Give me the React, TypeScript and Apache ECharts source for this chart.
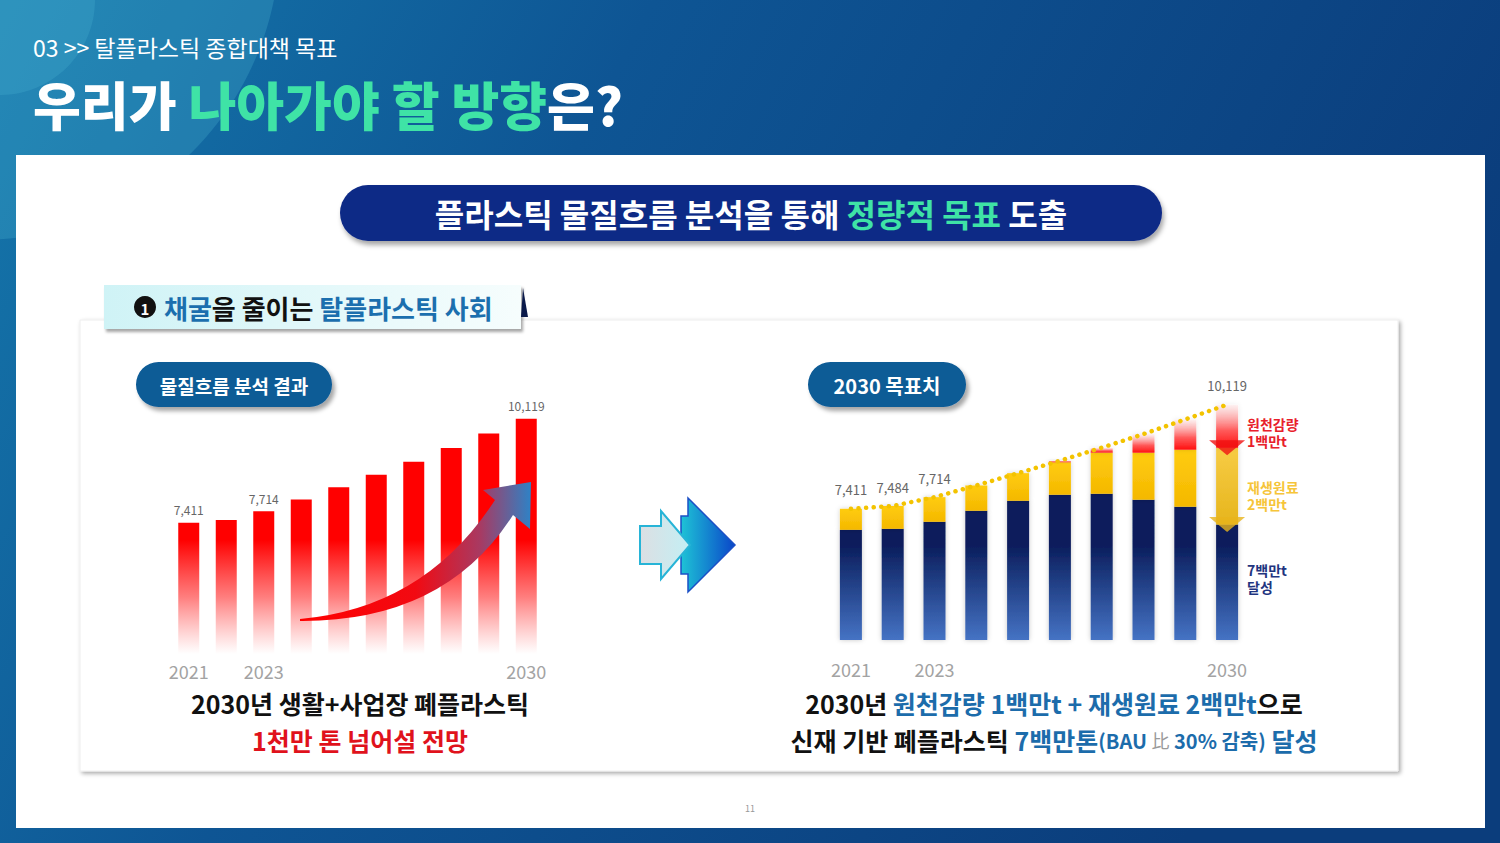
import React, { useEffect, useRef } from 'react';
import * as echarts from 'echarts';

// ---------- data ----------
const years = ['2021', '2022', '2023', '2024', '2025', '2026', '2027', '2028', '2029', '2030'];
const shownYears = ['2021', '2023', '2030'];
const wasteTotal = [7411, 7484, 7714, 8018, 8338, 8661, 9000, 9354, 9736, 10119];
const leftLabeledYears = ['2021', '2023', '2030'];
const rightLabeledYears = ['2021', '2022', '2023', '2030'];
const newMaterial = [6864, 6890, 7073, 7360, 7620, 7776, 7802, 7645, 7463, 7000];
const recycled = [547, 594, 641, 658, 718, 845, 1068, 1224, 1484, 2000];
const reduction = [0, 0, 0, 0, 0, 40, 130, 485, 789, 1119];
const axisMin = 4000;
const axisMax = 10500;

const FONT = "'Noto Sans CJK KR', 'Noto Sans', sans-serif";
const SWOOSH_D = 'M300 619 Q425 608 495 500 L483 490 L531 482 L530 529 L513 515 Q445 622 300 621 Z';

const fmt = (v: number) => String(v).replace(/\B(?=(\d{3})+(?!\d))/g, ',');

export default function App() {
  const ref = useRef<HTMLDivElement>(null);
  useEffect(() => {
    if (!ref.current) return;
    try {
      echarts.graphic.registerShape('swoosh', echarts.graphic.extendPath(SWOOSH_D, {}) as any);
    } catch (e) {}
    const chart = echarts.init(ref.current, null, { renderer: 'svg' });
    const last = years.length - 1;

    const text = (x: number, y: number, t: string, o: any = {}, z = 20) => ({
      type: 'text', x, y, z,
      style: { text: t, fontFamily: FONT, verticalAlign: 'middle', align: 'left', ...o },
    });
    const rs = (fill: string, fontSize: number, lineHeight?: number, fontWeight: any = 'bold') =>
      ({ fill, fontSize, fontWeight, fontFamily: FONT, ...(lineHeight ? { lineHeight } : {}) });

    const CAP = 25;
    const CAP_LH = 37;

    const graphic: any[] = [
      // background
      { type: 'rect', z: -10, shape: { x: 0, y: 0, width: 1500, height: 843 },
        style: { fill: { type: 'linear', x: 0, y: 0, x2: 1, y2: 0.3, colorStops: [
          { offset: 0, color: '#1577ab' }, { offset: 0.4, color: '#0e5594' }, { offset: 1, color: '#0b3d7c' } ] } } },
      { type: 'circle', z: -9, shape: { cx: -20, cy: -60, r: 300 }, style: { fill: 'rgba(90,200,225,0.22)' } },
      { type: 'circle', z: -9, shape: { cx: 0, cy: 0, r: 95 }, style: { fill: 'rgba(110,215,235,0.15)' } },
      // white panel
      { type: 'rect', z: -8, shape: { x: 16, y: 155, width: 1469, height: 673 }, style: { fill: '#ffffff' } },
      // inner box
      { type: 'rect', z: -7, shape: { x: 80, y: 320, width: 1318, height: 451 },
        style: { fill: '#ffffff', stroke: '#eeeeee', lineWidth: 1, shadowBlur: 4, shadowOffsetX: 2, shadowOffsetY: 2, shadowColor: 'rgba(0,0,0,0.35)' } },
      // header titles
      text(33, 47, '03 >> 탈플라스틱 종합대책 목표', { fill: '#ffffff', fontSize: 23, fontWeight: 400 }),
      text(33, 103, '{w|우리가 }{g|나아가야 할 방향}{w|은?}', {
        fontSize: 52, fontWeight: 900,
        rich: { w: rs('#ffffff', 52, undefined, 900), g: rs('#3fe3a6', 52, undefined, 900) } }),
      // banner
      { type: 'rect', z: 5, shape: { x: 340, y: 185, width: 822, height: 56, r: 28 },
        style: { fill: '#112a86', shadowBlur: 5, shadowOffsetX: 2, shadowOffsetY: 4, shadowColor: 'rgba(0,0,0,0.35)' } },
      text(751, 213, '{w|플라스틱 물질흐름 분석을 통해 }{g|정량적 목표}{w| 도출}', {
        align: 'center', fontSize: 32, fontWeight: 'bold',
        rich: { w: rs('#ffffff', 32), g: rs('#3fe3a6', 32) } }),
      // section header
      { type: 'rect', z: 5, shape: { x: 104, y: 285, width: 417, height: 44 },
        style: { fill: { type: 'linear', x: 0, y: 0, x2: 1, y2: 0, colorStops: [
          { offset: 0, color: '#cff3f6' }, { offset: 1, color: '#f6fdfd' } ] },
          shadowBlur: 3, shadowOffsetX: 2, shadowOffsetY: 3, shadowColor: 'rgba(0,0,0,0.35)' } },
      { type: 'polygon', z: 5, shape: { points: [[523, 288], [521, 317], [528, 317]] }, style: { fill: '#0b1a4a' } },
      { type: 'circle', z: 20, shape: { cx: 145, cy: 307, r: 11 }, style: { fill: '#111111' } },
      text(145, 308, '1', { align: 'center', fill: '#ffffff', fontSize: 15, fontWeight: 'bold' }, 21),
      text(164, 307, '{b|채굴}{k|을 줄이는 }{b|탈플라스틱 사회}', {
        fontSize: 26, fontWeight: 'bold',
        rich: { b: rs('#1b6fae', 26), k: rs('#111111', 26) } }),
      // pills
      { type: 'rect', z: 5, shape: { x: 136, y: 362, width: 196, height: 45, r: 22.5 },
        style: { fill: '#0e5b96', shadowBlur: 4, shadowOffsetX: 3, shadowOffsetY: 4, shadowColor: 'rgba(0,0,0,0.35)' } },
      text(234, 385, '물질흐름 분석 결과', { align: 'center', fill: '#ffffff', fontSize: 19, fontWeight: 'bold' }),
      { type: 'rect', z: 5, shape: { x: 808, y: 362, width: 158, height: 45, r: 22.5 },
        style: { fill: '#0e5b96', shadowBlur: 4, shadowOffsetX: 3, shadowOffsetY: 4, shadowColor: 'rgba(0,0,0,0.35)' } },
      text(887, 385, '2030 목표치', { align: 'center', fill: '#ffffff', fontSize: 20, fontWeight: 'bold' }),
      // swoosh arrow in left chart
      { type: 'swoosh', z: 30, x: 0, y: 0,
        style: { fill: { type: 'linear', x: 0, y: 0, x2: 1, y2: 0, colorStops: [
          { offset: 0, color: '#ff0000' }, { offset: 0.5, color: '#f20a12' }, { offset: 0.78, color: '#a83a62' }, { offset: 1, color: '#2e82c6' } ] } } },
      // middle arrows
      { type: 'polygon', z: 10, shape: { points: [[688, 498], [735, 545], [688, 592], [688, 574], [681, 574], [681, 516], [688, 516]] },
        style: { fill: { type: 'linear', x: 0, y: 0, x2: 1, y2: 0, colorStops: [
          { offset: 0, color: '#1ec3d6' }, { offset: 1, color: '#0a46c9' } ] }, stroke: '#1b50c6', lineWidth: 1.5 } },
      { type: 'polygon', z: 11, shape: { points: [[640, 526], [661, 526], [661, 511], [690, 545], [661, 579], [661, 564], [640, 564]] },
        style: { fill: { type: 'linear', x: 0, y: 0, x2: 1, y2: 0, colorStops: [
          { offset: 0, color: '#dcdfe3' }, { offset: 1, color: '#c3eff4' } ] }, stroke: '#27b4d7', lineWidth: 2 } },
      // right chart annotations
      text(1247, 432.5, '원천감량\n1백만t', { fill: '#e8202a', fontSize: 14, fontWeight: 'bold', lineHeight: 17 }),
      text(1247, 495.5, '재생원료\n2백만t', { fill: '#f6c53a', fontSize: 14, fontWeight: 'bold', lineHeight: 17 }),
      text(1247, 578.5, '7백만t\n달성', { fill: '#1f3580', fontSize: 14, fontWeight: 'bold', lineHeight: 17 }),
      // bottom captions
      text(360, 721.5, '{k|2030년 생활+사업장 폐플라스틱}\n{r|1천만 톤 넘어설 전망}', {
        align: 'center', fontSize: CAP, fontWeight: 'bold', lineHeight: CAP_LH,
        rich: { k: rs('#111111', CAP, CAP_LH), r: rs('#e0121c', CAP, CAP_LH) } }),
      text(1054, 721.5,
        '{k|2030년 }{b|원천감량 1백만t + 재생원료 2백만t}{k|으로}\n{k|신재 기반 폐플라스틱 }{b|7백만톤}{s|(BAU }{g|比}{s| 30% 감축)}{b| 달성}', {
        align: 'center', fontSize: CAP, fontWeight: 'bold', lineHeight: CAP_LH,
        rich: { b: rs('#1c6cab', CAP, CAP_LH), s: rs('#1c6cab', 20, CAP_LH), g: rs('#9a9a9a', 18, CAP_LH, 'normal'), k: rs('#111111', CAP, CAP_LH) } }),
      text(750, 808, '11', { align: 'center', fill: '#999999', fontSize: 9 }),
    ];

    const xAxisCommon = {
      type: 'category', data: years,
      axisLine: { show: false }, axisTick: { show: false }, splitLine: { show: false },
    };
    const yAxisCommon = { type: 'value', min: axisMin, max: axisMax, show: false, splitLine: { show: false } };

    const option: any = {
      animation: false,
      grid: [
        { left: 170, top: 404, width: 375, height: 250 },
        { left: 830, top: 390, width: 418, height: 250 },
      ],
      xAxis: [
        { ...xAxisCommon, gridIndex: 0,
          axisLabel: { interval: 0, margin: 8, color: '#a3a3a3', fontSize: 18, fontFamily: FONT,
            formatter: (v: string) => (shownYears.includes(v) ? v : '') } },
        { ...xAxisCommon, gridIndex: 1,
          axisLabel: { interval: 0, margin: 20, color: '#a3a3a3', fontSize: 18, fontFamily: FONT,
            formatter: (v: string) => (shownYears.includes(v) ? v : '') } },
      ],
      yAxis: [{ ...yAxisCommon, gridIndex: 0 }, { ...yAxisCommon, gridIndex: 1 }],
      graphic,
      series: [
        {
          type: 'bar', xAxisIndex: 0, yAxisIndex: 0, data: wasteTotal, barWidth: 21,
          itemStyle: { color: { type: 'linear', x: 0, y: 540, x2: 0, y2: 654, global: true, colorStops: [
            { offset: 0, color: 'rgba(255,0,0,1)' }, { offset: 0.5, color: 'rgba(255,20,20,0.55)' }, { offset: 1, color: 'rgba(255,60,60,0)' } ] } },
          label: { show: true, position: 'top', distance: 7, color: '#666666', fontSize: 12, fontFamily: FONT,
            formatter: (p: any) => (leftLabeledYears.includes(p.name) ? fmt(p.value) : '') },
        },
        {
          type: 'bar', xAxisIndex: 1, yAxisIndex: 1, stack: 'r', data: newMaterial, barWidth: 22,
          itemStyle: { color: { type: 'linear', x: 0, y: 545, x2: 0, y2: 640, global: true, colorStops: [
            { offset: 0, color: '#0a1d5c' }, { offset: 1, color: '#4573c4' } ] },
            shadowBlur: 5, shadowColor: 'rgba(0,0,0,0.22)' },
        },
        {
          type: 'bar', xAxisIndex: 1, yAxisIndex: 1, stack: 'r', barWidth: 22,
          data: recycled.map((v, i) => i === last
            ? { value: v, itemStyle: { color: { type: 'linear', x: 0, y: 0, x2: 0, y2: 1, colorStops: [
                { offset: 0, color: '#f7cc45' }, { offset: 1, color: '#e6b51c' } ] } } }
            : v),
          itemStyle: { color: { type: 'linear', x: 0, y: 0, x2: 0, y2: 1, colorStops: [
            { offset: 0, color: '#ffcc10' }, { offset: 1, color: '#f4b800' } ] },
            shadowBlur: 5, shadowColor: 'rgba(0,0,0,0.18)' },
        },
        {
          type: 'bar', xAxisIndex: 1, yAxisIndex: 1, stack: 'r', barWidth: 22,
          data: reduction,
          itemStyle: { color: { type: 'linear', x: 0, y: 0, x2: 0, y2: 1, colorStops: [
            { offset: 0, color: 'rgba(255,235,235,0.6)' }, { offset: 0.6, color: '#ff5a5a' }, { offset: 1, color: '#ff1010' } ] },
            shadowBlur: 5, shadowColor: 'rgba(0,0,0,0.12)' },
        },
        {
          type: 'line', xAxisIndex: 1, yAxisIndex: 1, data: wasteTotal, z: 10,
          symbol: 'circle', symbolSize: 1, showSymbol: true,
          itemStyle: { color: 'rgba(0,0,0,0)' },
          lineStyle: { color: '#f3c300', width: 4.5, type: [0.1, 7.5], cap: 'round' },
          label: { show: true, position: 'top', distance: 12, color: '#666666', fontSize: 13, fontFamily: FONT,
            formatter: (p: any) => (rightLabeledYears.includes(p.name) ? fmt(p.value) : '') },
        },
        {
          type: 'scatter', xAxisIndex: 1, yAxisIndex: 1, z: 12,
          symbol: 'triangle', symbolRotate: 180, symbolSize: [36, 15],
          data: [
            { value: [years[last], newMaterial[last] + recycled[last]], itemStyle: { color: '#f01212' } },
            { value: [years[last], newMaterial[last]], itemStyle: { color: '#e8b41c' } },
          ],
        },
      ],
    };
    chart.setOption(option);
    return () => chart.dispose();
  }, []);
  return <div ref={ref} style={{ position: 'absolute', left: 0, top: 0, width: 1500, height: 843 }} />;
}
